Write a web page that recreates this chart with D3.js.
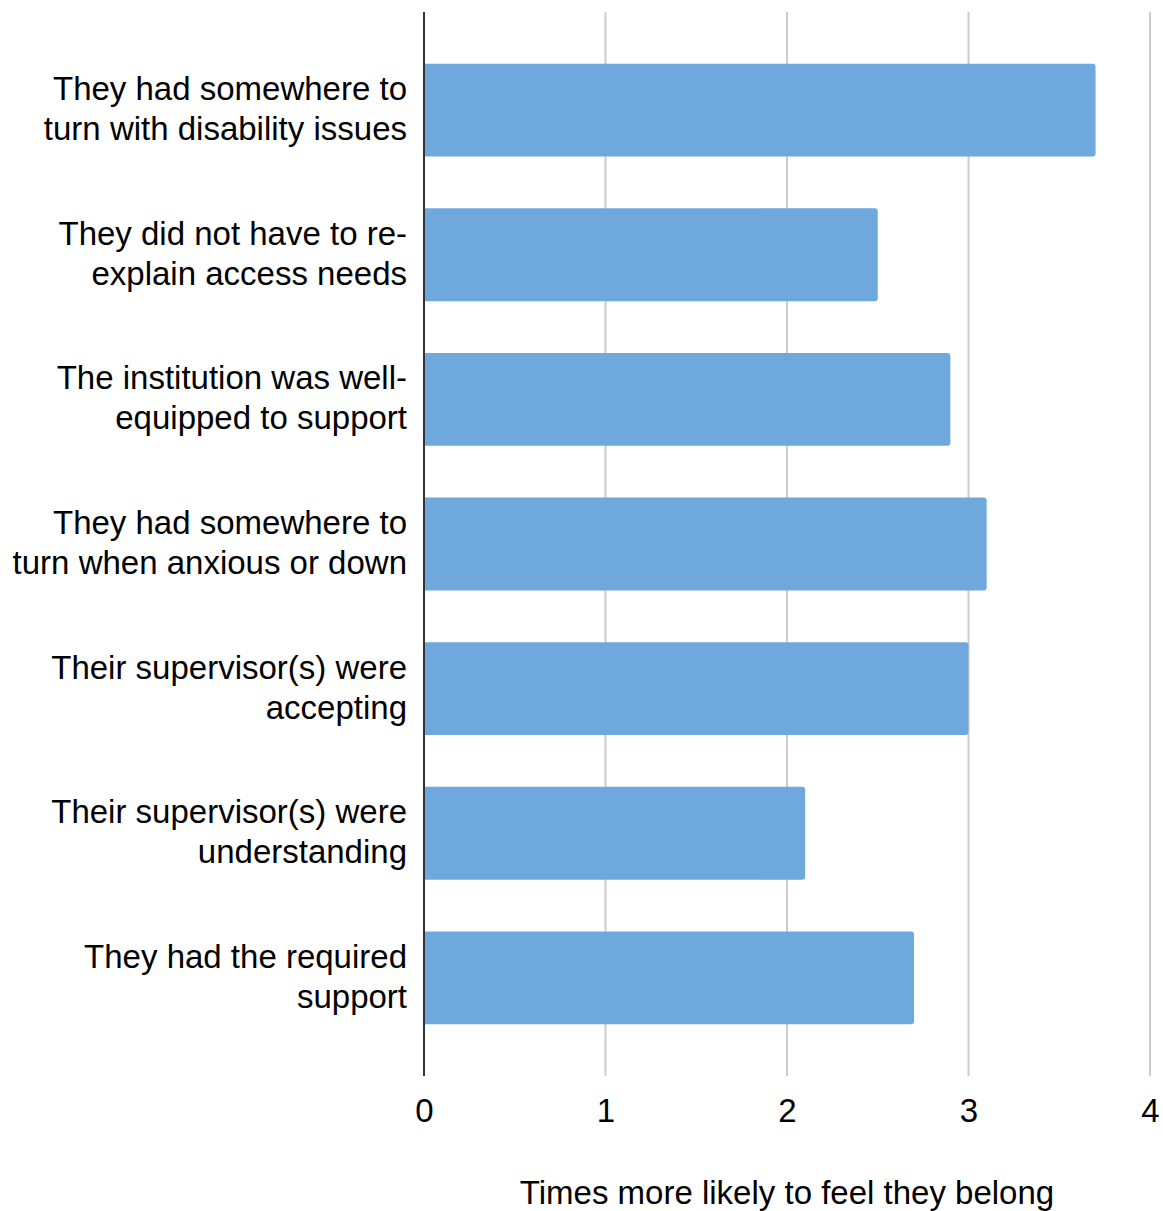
<!DOCTYPE html>
<html>
<head>
<meta charset="utf-8">
<script src="https://cdn.jsdelivr.net/npm/d3@7"></script>
<style>
  html, body { margin: 0; padding: 0; background: #fff; }
  svg { display: block; font-family: "Liberation Sans", Arial, sans-serif; }
</style>
</head>
<body>
<svg id="chart" width="1163" height="1211"></svg>
<script>
// Reasons and how many times more likely respondents were to feel they belong
const categories = [
  "They had somewhere to\nturn with disability issues",
  "They did not have to re-\nexplain access needs",
  "The institution was well-\nequipped to support",
  "They had somewhere to\nturn when anxious or down",
  "Their supervisor(s) were\naccepting",
  "Their supervisor(s) were\nunderstanding",
  "They had the required\nsupport"
];
const values = [3.7, 2.5, 2.9, 3.1, 3.0, 2.1, 2.7];
const xTicks = [0, 1, 2, 3, 4];
const xTitle = "Times more likely to feel they belong";

(function () {
  const svg = d3.select("#chart");
  const plotLeft = 424, plotRight = 1150, plotTop = 12, plotBottom = 1076;
  const fontSize = 33;

  const x = d3.scaleLinear().domain([0, 4]).range([plotLeft, plotRight]);
  const y = d3.scaleBand().domain(categories).range([plotTop, plotBottom]).padding(0.357);

  // vertical gridlines
  svg.append("g")
    .selectAll("line")
    .data(xTicks.filter(d => d !== 0))
    .join("line")
    .attr("x1", d => x(d)).attr("x2", d => x(d))
    .attr("y1", plotTop).attr("y2", plotBottom)
    .attr("stroke", "#cccccc")
    .attr("stroke-width", 2);

  // bars with slightly rounded right ends
  const r = 3;
  svg.append("g")
    .selectAll("path")
    .data(categories.map((c, i) => ({ c, v: values[i] })))
    .join("path")
    .attr("d", d => {
      const x0 = x(0), x1 = x(d.v), y0 = y(d.c), h = y.bandwidth();
      return `M${x0},${y0}H${x1 - r}Q${x1},${y0} ${x1},${y0 + r}V${y0 + h - r}Q${x1},${y0 + h} ${x1 - r},${y0 + h}H${x0}Z`;
    })
    .attr("fill", "#6fa8dc");

  // baseline axis
  svg.append("line")
    .attr("x1", x(0)).attr("x2", x(0))
    .attr("y1", plotTop).attr("y2", plotBottom)
    .attr("stroke", "#333333")
    .attr("stroke-width", 2);

  // x tick labels via d3 axis
  const xAxis = svg.append("g")
    .attr("transform", `translate(0,${plotBottom})`)
    .call(d3.axisBottom(x).tickValues(xTicks).tickFormat(d3.format("d")).tickSize(0).tickPadding(0));
  xAxis.select(".domain").remove();
  xAxis.selectAll("text")
    .attr("dy", null)
    .attr("y", 46)
    .attr("font-size", fontSize)
    .attr("font-family", "'Liberation Sans', Arial, sans-serif")
    .attr("fill", "#000");

  // category labels, two lines each
  const labels = svg.append("g")
    .selectAll("text")
    .data(categories)
    .join("text")
    .attr("text-anchor", "end")
    .attr("font-size", fontSize)
    .attr("fill", "#000");
  labels.each(function (d) {
    const lines = d.split("\n");
    const cy = y(d) + y.bandwidth() / 2;
    const lh = 40;
    d3.select(this).selectAll("tspan")
      .data(lines)
      .join("tspan")
      .attr("x", 407)
      .attr("y", (l, i) => cy + (i - (lines.length - 1) / 2) * lh + 10)
      .text(l => l);
  });

  // axis title
  svg.append("text")
    .attr("x", (plotLeft + plotRight) / 2)
    .attr("y", 1204)
    .attr("text-anchor", "middle")
    .attr("font-size", fontSize)
    .attr("fill", "#000")
    .text(xTitle);
})();
</script>
</body>
</html>
